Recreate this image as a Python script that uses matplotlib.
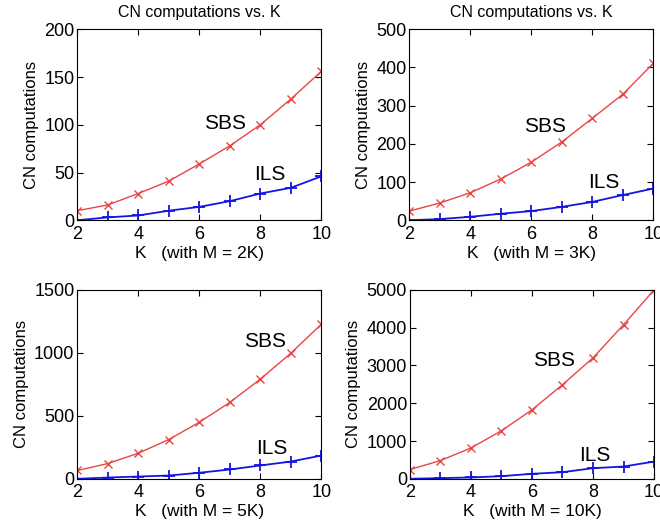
import numpy as np
import matplotlib
matplotlib.use('Agg')
import matplotlib.pyplot as plt

plt.rcParams['font.family'] = ['Liberation Sans', 'DejaVu Sans']

K = [2, 3, 4, 5, 6, 7, 8, 9, 10]

# SBS / ILS values, one pair per panel
sbs_2k = [10, 16, 28, 41, 59, 78, 100, 127, 156]
ils_2k = [0, 3, 5, 10, 14, 20, 28, 34, 46]
sbs_3k = [24, 45, 72, 108, 152, 205, 267, 330, 411]
ils_3k = [0, 3, 9, 17, 24, 35, 48, 66, 83]
sbs_5k = [66, 121, 203, 312, 449, 607, 792, 998, 1228]
ils_5k = [0, 10, 18, 26, 48, 74, 106, 137, 185]
sbs_10k = [246, 482, 816, 1272, 1825, 2491, 3202, 4079, 5000]
ils_10k = [0, 18, 35, 70, 132, 175, 281, 325, 456]

xlabels = ['K   (with M = 2K)', 'K   (with M = 3K)', 'K   (with M = 5K)', 'K   (with M = 10K)']
ymax = [200, 500, 1500, 5000]
yticks = [[0, 50, 100, 150, 200], [0, 100, 200, 300, 400, 500],
          [0, 500, 1000, 1500], [0, 1000, 2000, 3000, 4000, 5000]]
titles = ['CN computations vs. K', 'CN computations vs. K', None, None]
sbs_pos = [(6.15, 101), (5.75, 246), (7.45, 1088), (6.05, 3131)]
ils_pos = [(7.8, 48), (7.85, 100), (7.85, 238), (7.55, 614)]

boxes = [[0.117, 0.586, 0.370, 0.359],
         [0.620, 0.586, 0.370, 0.359],
         [0.117, 0.100, 0.370, 0.355],
         [0.621, 0.100, 0.370, 0.355]]

fig = plt.figure(figsize=(6.6, 5.32), dpi=100)

series = [(sbs_2k, ils_2k), (sbs_3k, ils_3k), (sbs_5k, ils_5k), (sbs_10k, ils_10k)]
for i, (sbs, ils) in enumerate(series):
    ax = fig.add_axes(boxes[i])
    ax.plot(K, sbs, color='#e84545', marker='x', markersize=6, linewidth=1.0, markeredgewidth=1.0)
    ax.plot(K, ils, color='#1515e0', marker='+', markersize=9, linewidth=1.3, markeredgewidth=1.3)
    ax.set_xlim(2, 10)
    ax.set_ylim(0, ymax[i])
    ax.set_xticks([2, 4, 6, 8, 10])
    ax.set_yticks(yticks[i])
    ax.tick_params(direction='in', top=True, right=True, labelsize=13, length=4)
    ax.tick_params(axis='x', pad=4)
    ax.tick_params(axis='y', pad=2)
    ax.set_xlabel(xlabels[i], fontsize=12.5, labelpad=2)
    ax.set_ylabel('CN computations', fontsize=12, labelpad=4)
    if titles[i]:
        ax.set_title(titles[i], fontsize=11.5, pad=9)
    ax.text(sbs_pos[i][0], sbs_pos[i][1], 'SBS', fontsize=15, va='center', ha='left')
    ax.text(ils_pos[i][0], ils_pos[i][1], 'ILS', fontsize=15, va='center', ha='left')
    for s in ax.spines.values():
        s.set_linewidth(0.8)

plt.savefig('out.png', dpi=100)
